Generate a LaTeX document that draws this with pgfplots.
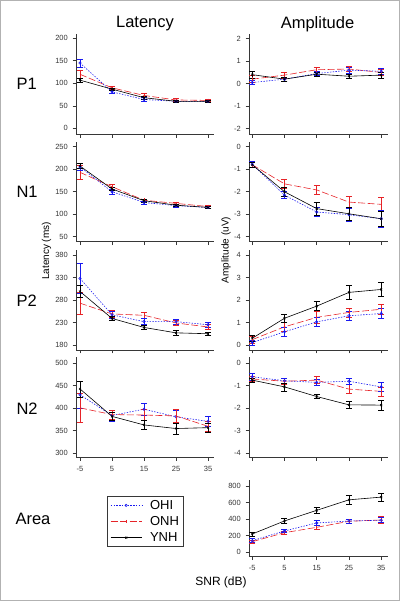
\documentclass[border=0pt]{standalone}
\usepackage{fontspec}
\setmainfont{Liberation Sans}
\usepackage{pgfplots}
\usepackage{pgfplotstable}
\pgfplotsset{compat=1.18}
\definecolor{cblue}{RGB}{25,25,240}
\definecolor{cred}{RGB}{230,35,40}
\definecolor{axgray}{RGB}{55,55,55}

\pgfplotstableread{
x ohi ohie onh onhe ynh ynhe
-5 145 9 120 8 107 5
5 81 4 90 4 87 3
15 64 4 73 4 68 3
25 60 3 63 3 60 3
35 60 3 62 3 60 3
}\latPone
\pgfplotstableread{
x ohi ohie onh onhe ynh ynhe
-5 0.05 0.1 0.2 0.15 0.4 0.15
5 0.2 0.1 0.38 0.12 0.2 0.1
15 0.45 0.1 0.62 0.12 0.42 0.1
25 0.6 0.12 0.65 0.12 0.33 0.1
35 0.55 0.15 0.5 0.15 0.38 0.12
}\ampPone
\pgfplotstableread{
x ohi ohie onh onhe ynh ynhe
-5 205 8 193 15 207 6
5 150 5 161 5 156 4
15 126 3 131 3 130 3
25 119 3 124 3 120 3
35 115 3 117 3 115 3
}\latNone
\pgfplotstableread{
x ohi ohie onh onhe ynh ynhe
-5 -0.78 0.12 -0.8 0.12 -0.8 0.1
5 -2.15 0.15 -1.65 0.2 -2.0 0.2
15 -2.9 0.2 -1.92 0.2 -2.75 0.3
25 -3.02 0.3 -2.46 0.25 -2.98 0.3
35 -3.2 0.38 -2.56 0.3 -3.2 0.35
}\ampNone
\pgfplotstableread{
x ohi ohie onh onhe ynh ynhe
-5 328 33 273 24 299 13
5 247 8 249 7 239 5
15 232 7 246 7 219 4
25 232 6 229 5 207 5
35 225 6 220 5 205 4
}\latPtwo
\pgfplotstableread{
x ohi ohie onh onhe ynh ynhe
-5 0.12 0.12 0.25 0.15 0.31 0.15
5 0.6 0.2 0.82 0.2 1.2 0.18
15 1.04 0.2 1.24 0.25 1.74 0.2
25 1.31 0.2 1.46 0.2 2.35 0.3
35 1.41 0.22 1.6 0.22 2.48 0.3
}\ampPtwo
\pgfplotstableread{
x ohi ohie onh onhe ynh ynhe
-5 430 31 401 32 443 18
5 384 12 386 10 382 8
15 398 13 385 12 363 10
25 381 15 383 15 355 12
35 371 12 360 12 357 10
}\latNtwo
\pgfplotstableread{
x ohi ohie onh onhe ynh ynhe
-5 -0.6 0.15 -0.7 0.1 -0.75 0.1
5 -0.78 0.12 -0.8 0.12 -1.05 0.18
15 -0.85 0.15 -0.75 0.15 -1.48 0.1
25 -0.8 0.15 -1.15 0.2 -1.85 0.15
35 -1.05 0.2 -1.25 0.2 -1.86 0.22
}\ampNtwo
\pgfplotstableread{
x ohi ohie onh onhe ynh ynhe
-5 137 25 125 20 218 22
5 255 20 234 22 376 28
15 352 30 299 20 505 35
25 375 25 372 30 632 50
35 385 30 388 40 665 45
}\areaT

\pgfplotsset{
  panel/.style={
    scale only axis, height=100pt,
    axis x line*=bottom, axis y line*=left,
    axis line style={axgray, line width=0.6pt},
    every tick/.style={axgray, line width=0.6pt},
    tick align=outside, major tick length=3.5pt,
    xtick={-5,5,15,25,35},
    xticklabel={\vphantom{0}},
    tick label style={font=\fontsize{7.5}{8}\selectfont, text=axgray},
    yticklabel style={xshift=-1.2pt},
    xticklabel style={yshift=-2pt},
    /pgf/number format/assume math mode=true,
    clip=false, anchor=south west,
  },
  leftcol/.style={panel, width=137.8pt, xmin=-6.25, xmax=36.8},
  rightcol/.style={panel, width=139.3pt, xmin=-6, xmax=37.2},
  ohi/.style={cblue, dash pattern=on 1.4pt off 1.4pt, line width=0.6pt, mark=o, mark size=1.2pt, mark options={solid}},
  onh/.style={cred, dash pattern=on 7pt off 2.5pt, line width=0.6pt, mark=|, mark size=1.8pt, mark options={solid}},
  ynh/.style={black, solid, line width=0.6pt, mark=x, mark size=1.4pt, mark options={solid}},
  eb/.style={error bars/.cd, y dir=both, y explicit, error bar style={solid, line width=0.6pt}, error mark options={rotate=90, mark size=3pt, solid, line width=0.6pt}},
}

\newcommand{\three}[1]{%
  \addplot[onh, eb] table[x=x, y=onh, y error=onhe] {#1};
  \addplot[ohi, eb] table[x=x, y=ohi, y error=ohie] {#1};
  \addplot[ynh, eb] table[x=x, y=ynh, y error=ynhe] {#1};
}

\begin{document}
\begin{tikzpicture}
\useasboundingbox (0,0) rectangle (400pt,601pt);
\draw[black!30, line width=0.8pt] (0.4pt,0.4pt) rectangle (399.6pt,600.6pt);

% Left column: Latency
\begin{axis}[leftcol, at={(76pt,466.7pt)}, ymin=-13.3, ymax=208.9, ytick={0,50,...,200}]
\three{\latPone}
\end{axis}
\begin{axis}[leftcol, at={(76pt,359.3pt)}, ymin=38.9, ymax=261.1, ytick={50,100,...,250}]
\three{\latNone}
\end{axis}
\begin{axis}[leftcol, at={(76pt,251pt)}, ymin=168.9, ymax=391.1, ytick={180,230,280,330,380}]
\three{\latPtwo}
\end{axis}
\begin{axis}[leftcol, at={(76pt,143.7pt)}, ymin=291.1, ymax=513.3, ytick={300,350,...,500},
  xticklabel={\pgfmathprintnumber{\tick}},
  legend cell align=left,
  legend image code/.code={\draw[mark repeat=2,mark phase=2,#1] plot coordinates {(0pt,0pt) (15.5pt,0pt) (31pt,0pt)};},
  legend style={at={(axis description cs:0.225,-0.384)}, anchor=north west,
    draw=axgray, line width=0.8pt, font=\fontsize{13}{13}\selectfont,
    row sep=1.6pt,
    /tikz/every odd column/.append style={column sep=6pt}}]
\addplot[ohi, eb] table[x=x, y=ohi, y error=ohie] {\latNtwo};
\addlegendentry{OHI}
\addplot[onh, eb] table[x=x, y=onh, y error=onhe] {\latNtwo};
\addlegendentry{ONH}
\addplot[ynh, eb] table[x=x, y=ynh, y error=ynhe] {\latNtwo};
\addlegendentry{YNH}
\end{axis}

% Right column: Amplitude
\begin{axis}[rightcol, at={(249pt,466.7pt)}, ymin=-2.25, ymax=2.194, ytick={-2,-1,0,1,2}]
\three{\ampPone}
\end{axis}
\begin{axis}[rightcol, at={(249pt,359.3pt)}, ymin=-4.22, ymax=0.224, ytick={-4,-3,-2,-1,0}]
\three{\ampNone}
\end{axis}
\begin{axis}[rightcol, at={(249pt,251pt)}, ymin=-0.21, ymax=4.234, ytick={0,1,2,3,4}]
\three{\ampPtwo}
\end{axis}
\begin{axis}[rightcol, at={(249pt,143.7pt)}, ymin=-4.18, ymax=0.264, ytick={-4,-3,-2,-1,0}]
\three{\ampNtwo}
\end{axis}
\begin{axis}[rightcol, at={(249pt,44.3pt)}, height=77pt, ymin=-57, ymax=876, ytick={0,200,...,800},
  xticklabel={\pgfmathprintnumber{\tick}}]
\three{\areaT}
\end{axis}

% Titles and labels
\node[font=\fontsize{16.5}{18}\selectfont] at (145pt,577pt) {Latency};
\node[font=\fontsize{16.5}{18}\selectfont] at (317.5pt,577pt) {Amplitude};
\node[font=\fontsize{16.5}{18}\selectfont, anchor=west] at (13pt,517.5pt) {P1};
\node[font=\fontsize{16.5}{18}\selectfont, anchor=west] at (13pt,409pt) {N1};
\node[font=\fontsize{16.5}{18}\selectfont, anchor=west] at (13pt,300pt) {P2};
\node[font=\fontsize{16.5}{18}\selectfont, anchor=west] at (13pt,192pt) {N2};
\node[font=\fontsize{16.5}{18}\selectfont, anchor=west] at (12pt,82pt) {Area};
\node[font=\fontsize{10}{12}\selectfont, rotate=90] at (46.5pt,350pt) {Latency (ms)};
\node[font=\fontsize{10}{12}\selectfont, rotate=90] at (226pt,351pt) {Amplitude (uV)};
\node[font=\fontsize{12}{14}\selectfont] at (221pt,19pt) {SNR (dB)};
\end{tikzpicture}
\end{document}
